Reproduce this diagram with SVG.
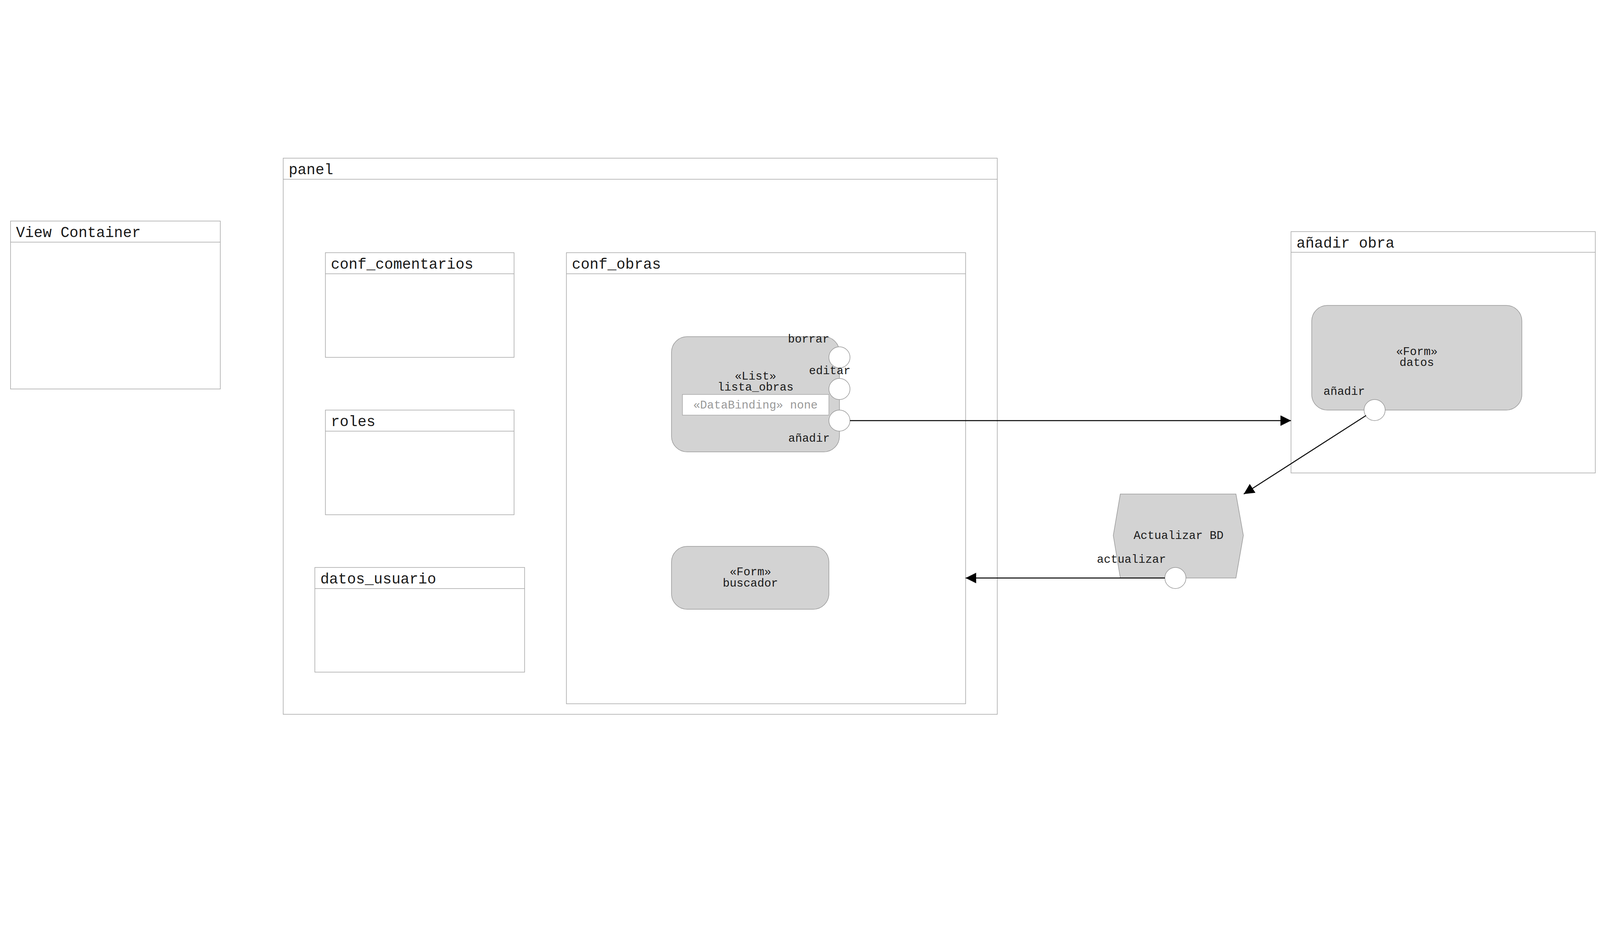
<svg xmlns="http://www.w3.org/2000/svg" width="4289" height="2412" viewBox="0 0 4289 2412">
<style>
text{font-family:"Liberation Mono","Courier New",monospace;fill:#1a1a1a}
.box{fill:#fff;stroke:#a6a6a6;stroke-width:1.5}
.hdr{font-size:38px}
.node{fill:#d3d3d3;stroke:#999;stroke-width:1.5}
.port{fill:#fff;stroke:#999;stroke-width:1.5}
.lbl{font-size:29.5px}
.mid{text-anchor:middle}
.bind{fill:#fff;stroke:#a6a6a6;stroke-width:1.5}
.bindt{fill:#999;font-size:29.5px;text-anchor:middle}
.edge{fill:none;stroke:#000;stroke-width:2.5}
</style>
<defs>
<marker id="arr" markerUnits="userSpaceOnUse" markerWidth="28" markerHeight="28" refX="27" refY="13.5" orient="auto">
<path d="M0,0 L27,13.5 L0,27 z" fill="#000"/>
</marker>
</defs>
<rect width="4289" height="2412" fill="#fff"/>

<g id="view-container">
<rect class="box" x="27" y="566" width="537" height="430"/>
<line class="box" x1="27" y1="620" x2="564" y2="620"/>
<text class="hdr" x="41" y="607">View Container</text>
</g>

<g id="panel">
<rect class="box" x="725" y="405" width="1828" height="1424"/>
<line class="box" x1="725" y1="459" x2="2553" y2="459"/>
<text class="hdr" x="739" y="446">panel</text>
</g>

<g id="conf_comentarios">
<rect class="box" x="833" y="647" width="483" height="268"/>
<line class="box" x1="833" y1="701" x2="1316" y2="701"/>
<text class="hdr" x="847" y="688">conf_comentarios</text>
</g>

<g id="roles">
<rect class="box" x="833" y="1050" width="483" height="268"/>
<line class="box" x1="833" y1="1104" x2="1316" y2="1104"/>
<text class="hdr" x="847" y="1091">roles</text>
</g>

<g id="datos_usuario">
<rect class="box" x="806" y="1453" width="537" height="268"/>
<line class="box" x1="806" y1="1507" x2="1343" y2="1507"/>
<text class="hdr" x="820" y="1494">datos_usuario</text>
</g>

<g id="conf_obras">
<rect class="box" x="1450" y="647" width="1022" height="1155"/>
<line class="box" x1="1450" y1="701" x2="2472" y2="701"/>
<text class="hdr" x="1464" y="688">conf_obras</text>
</g>

<g id="lista_obras">
<rect class="node" x="1719" y="862" width="430" height="295" rx="40" ry="40"/>
<text class="lbl mid" x="1934" y="972">«List»</text>
<text class="lbl mid" x="1934" y="1000">lista_obras</text>
<rect class="bind" x="1747" y="1010" width="375" height="53"/>
<text class="bindt" x="1934" y="1046">«DataBinding» none</text>
<circle class="port" cx="2149" cy="915" r="27"/>
<circle class="port" cx="2149" cy="996" r="27"/>
<circle class="port" cx="2149" cy="1077" r="27"/>
<text class="lbl" x="2017" y="877">borrar</text>
<text class="lbl" x="2071" y="958">editar</text>
<text class="lbl" x="2018" y="1131">añadir</text>
</g>

<g id="buscador">
<rect class="node" x="1719" y="1399" width="403" height="161" rx="40" ry="40"/>
<text class="lbl mid" x="1921" y="1473">«Form»</text>
<text class="lbl mid" x="1921" y="1502">buscador</text>
</g>

<g id="anadir_obra">
<rect class="box" x="3305" y="593" width="779" height="618"/>
<line class="box" x1="3305" y1="646" x2="4084" y2="646"/>
<text class="hdr" x="3319" y="634">añadir obra</text>
</g>

<g id="datos">
<rect class="node" x="3358" y="782" width="538" height="268" rx="40" ry="40"/>
<text class="lbl mid" x="3627" y="909">«Form»</text>
<text class="lbl mid" x="3627" y="937">datos</text>
<circle class="port" cx="3519" cy="1050" r="27"/>
<text class="lbl" x="3388" y="1011">añadir</text>
</g>

<g id="actualizar_bd">
<polygon class="node" points="2868,1265 3164,1265 3183,1371 3164,1480 2868,1480 2850,1371"/>
<text class="lbl" x="2902" y="1380">Actualizar BD</text>
<circle class="port" cx="3009" cy="1480" r="27"/>
<text class="lbl" x="2808" y="1441">actualizar</text>
</g>

<g id="connectors">
<line class="edge" x1="2176" y1="1077" x2="3305" y2="1077" marker-end="url(#arr)"/>
<line class="edge" x1="3497" y1="1064" x2="3184" y2="1265" marker-end="url(#arr)"/>
<line class="edge" x1="2982" y1="1480" x2="2472" y2="1480" marker-end="url(#arr)"/>
</g>
</svg>
